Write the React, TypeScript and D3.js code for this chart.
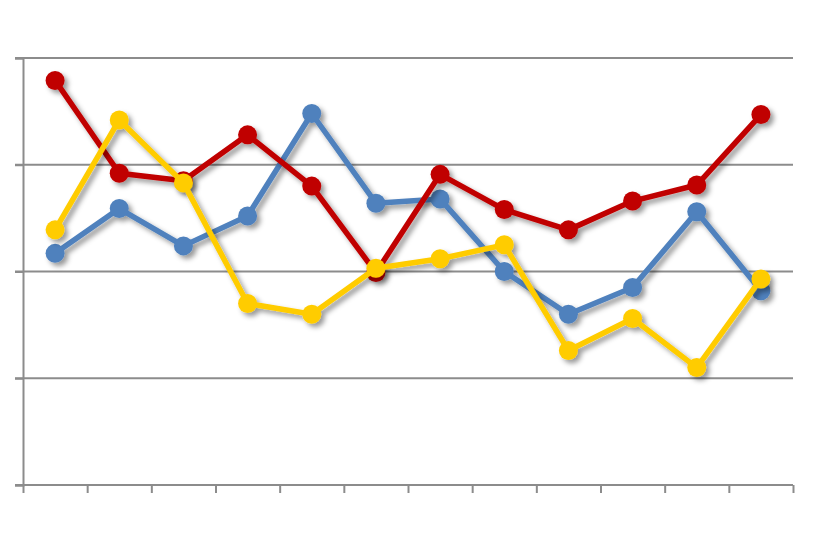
import { useEffect, useRef } from "react";
import * as d3 from "d3";

const categories = ["1", "2", "3", "4", "5", "6", "7", "8", "9", "10", "11", "12"];
const blue = [2.17, 2.59, 2.24, 2.52, 3.48, 2.64, 2.68, 2.0, 1.6, 1.85, 2.56, 1.82];
const red = [3.79, 2.92, 2.85, 3.28, 2.8, 1.99, 2.91, 2.58, 2.39, 2.66, 2.81, 3.47];
const yellow = [2.39, 3.42, 2.83, 1.7, 1.6, 2.03, 2.12, 2.25, 1.26, 1.56, 1.1, 1.93];
const yTicks = [0, 1, 2, 3, 4];

const SERIES = [
  { name: "blue", values: blue, colour: "#4F81BD" },
  { name: "red", values: red, colour: "#C00000" },
  { name: "yellow", values: yellow, colour: "#FFCC00" },
];

const dims = { w: 820, h: 546, left: 23, right: 793, top: 58, bottom: 485 };

const App = () => {
  const svgRef = useRef(null);

  useEffect(() => {
    const svg = d3.select(svgRef.current);
    svg.selectAll("*").remove();

    const xScale = d3
      .scaleLinear()
      .domain([0, categories.length])
      .range([dims.left, dims.right]);
    const yScale = d3.scaleLinear().domain([0, 4]).range([dims.bottom, dims.top]);

    // soft drop shadow under the lines and markers
    const defs = svg.append("defs");
    defs
      .append("filter")
      .attr("id", "shadow")
      .attr("x", "-20%")
      .attr("y", "-20%")
      .attr("width", "140%")
      .attr("height", "140%")
      .append("feDropShadow")
      .attr("dx", 3.5)
      .attr("dy", 3.5)
      .attr("stdDeviation", 2.5)
      .attr("flood-color", "#000")
      .attr("flood-opacity", 0.4);

    const grey = "#8c8c8c";

    // gridlines
    svg
      .append("g")
      .selectAll("line")
      .data(yTicks.slice(1))
      .join("line")
      .attr("x1", dims.left - 8)
      .attr("x2", dims.right)
      .attr("y1", (d) => yScale(d))
      .attr("y2", (d) => yScale(d))
      .attr("stroke", grey)
      .attr("stroke-width", 2);

    // y axis
    const yAxis = d3.axisLeft(yScale).tickValues(yTicks).tickSize(8).tickFormat(() => "");
    const yg = svg.append("g").attr("transform", `translate(${dims.left},0)`).call(yAxis);
    yg.selectAll("path,line").attr("stroke", grey).attr("stroke-width", 2);

    // x axis
    const xAxis = d3
      .axisBottom(xScale)
      .tickValues(d3.range(categories.length + 1))
      .tickSize(8)
      .tickSizeOuter(0)
      .tickFormat(() => "");
    const xg = svg.append("g").attr("transform", `translate(0,${dims.bottom})`).call(xAxis);
    xg.selectAll("path,line").attr("stroke", grey).attr("stroke-width", 2);
    xg.select("path").attr("d", `M${dims.left - 8},0H${dims.right}`);

    const line = d3
      .line<number>()
      .x((d, i) => xScale(i + 0.5))
      .y((d) => yScale(d));

    SERIES.forEach((s) => {
      const g = svg.append("g").attr("filter", "url(#shadow)");
      g.append("path")
        .attr("d", line(s.values))
        .attr("fill", "none")
        .attr("stroke", s.colour)
        .attr("stroke-width", 5.5)
        .attr("stroke-linejoin", "round");
      g.selectAll("circle")
        .data(s.values)
        .join("circle")
        .attr("cx", (d, i) => xScale(i + 0.5))
        .attr("cy", (d) => yScale(d))
        .attr("r", 9.5)
        .attr("fill", s.colour);
    });
  }, []);

  return (
    <svg
      ref={svgRef}
      width={dims.w}
      height={dims.h}
      style={{ position: "absolute", left: 0, top: 0, background: "#fff" }}
    ></svg>
  );
};

export default App;
